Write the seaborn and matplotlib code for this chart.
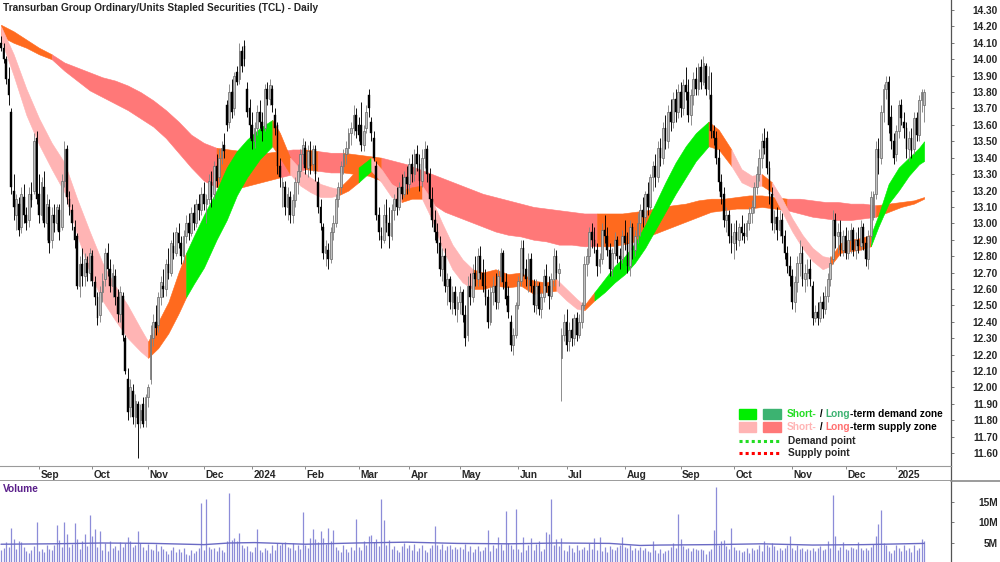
import numpy as np
import pandas as pd
import matplotlib
matplotlib.use("Agg")
import matplotlib.pyplot as plt
import seaborn as sns
from matplotlib.patches import Rectangle
from matplotlib.lines import Line2D

# daily bars, 11 Aug 2023 .. 17 Jan 2025 (prices in cents)
opens = [
    1410, 1407, 1400, 1388, 1368, 1320, 1305, 1312, 1298, 1316,
    1305, 1302, 1318, 1320, 1352, 1318, 1305, 1322, 1300, 1310,
    1290, 1305, 1300, 1308, 1298, 1326, 1345, 1315, 1308, 1298,
    1292, 1262, 1275, 1268, 1276, 1270, 1280, 1264, 1255, 1244,
    1258, 1266, 1282, 1272, 1262, 1268, 1255, 1245, 1256, 1230,
    1205, 1188, 1198, 1182, 1190, 1180, 1190, 1180, 1194, 1205,
    1230, 1240, 1238, 1255, 1262, 1260, 1275, 1270, 1286, 1282,
    1294, 1288, 1280, 1292, 1300, 1294, 1306, 1300, 1312, 1308,
    1318, 1312, 1315, 1325, 1318, 1335, 1328, 1340, 1348, 1372,
    1362, 1380, 1370, 1392, 1388, 1405, 1408, 1382, 1370, 1360,
    1350, 1358, 1368, 1362, 1358, 1382, 1376, 1382, 1366, 1360,
    1335, 1322, 1322, 1310, 1316, 1305, 1314, 1325, 1332, 1342,
    1346, 1334, 1344, 1336, 1345, 1325, 1310, 1298, 1282, 1284,
    1278, 1295, 1300, 1315, 1322, 1335, 1342, 1346, 1355, 1358,
    1366, 1360, 1360, 1348, 1358, 1378, 1362, 1352, 1335, 1305,
    1292, 1290, 1305, 1300, 1292, 1308, 1315, 1310, 1322, 1318,
    1328, 1324, 1336, 1330, 1342, 1336, 1326, 1340, 1345, 1330,
    1315, 1302, 1295, 1288, 1272, 1280, 1262, 1266, 1252, 1258,
    1248, 1252, 1258, 1244, 1232, 1262, 1255, 1270, 1266, 1280,
    1270, 1262, 1255, 1240, 1258, 1262, 1252, 1268, 1282, 1264,
    1256, 1240, 1226, 1232, 1250, 1265, 1285, 1272, 1266, 1278,
    1262, 1250, 1262, 1248, 1255, 1268, 1262, 1256, 1266, 1280,
    1270, 1218, 1232, 1240, 1228, 1235, 1230, 1242, 1232, 1240,
    1250, 1275, 1280, 1295, 1290, 1284, 1274, 1278, 1296, 1292,
    1284, 1272, 1282, 1290, 1280, 1278, 1292, 1288, 1274, 1298,
    1284, 1292, 1300, 1308, 1304, 1318, 1310, 1328, 1335, 1328,
    1346, 1340, 1358, 1350, 1368, 1362, 1376, 1368, 1380, 1370,
    1384, 1380, 1366, 1378, 1388, 1382, 1395, 1386, 1396, 1382,
    1378, 1356, 1352, 1340, 1325, 1318, 1302, 1305, 1292, 1288,
    1295, 1290, 1298, 1294, 1292, 1300, 1306, 1310, 1322, 1330,
    1340, 1350, 1352, 1334, 1318, 1300, 1304, 1296, 1302, 1292,
    1282, 1274, 1268, 1252, 1264, 1276, 1282, 1266, 1270, 1272,
    1262, 1242, 1246, 1242, 1252, 1248, 1256, 1266, 1278, 1302,
    1292, 1295, 1284, 1292, 1282, 1290, 1296, 1284, 1290, 1286,
    1298, 1288, 1278, 1292, 1304, 1318, 1345, 1340, 1368, 1382,
    1386, 1365, 1350, 1342, 1356, 1372, 1362, 1358, 1345, 1352,
    1345, 1364, 1354, 1375, 1372,
]
highs = [
    1414, 1410, 1402, 1395, 1370, 1330, 1318, 1316, 1322, 1324,
    1310, 1322, 1325, 1355, 1356, 1330, 1328, 1332, 1318, 1315,
    1310, 1312, 1312, 1312, 1330, 1350, 1348, 1320, 1312, 1302,
    1294, 1280, 1285, 1282, 1280, 1285, 1284, 1268, 1258, 1262,
    1270, 1285, 1288, 1278, 1275, 1272, 1260, 1262, 1258, 1232,
    1212, 1205, 1202, 1196, 1192, 1190, 1194, 1196, 1202, 1238,
    1245, 1250, 1258, 1268, 1272, 1278, 1285, 1290, 1295, 1298,
    1300, 1292, 1296, 1305, 1306, 1310, 1312, 1315, 1318, 1322,
    1325, 1318, 1330, 1332, 1338, 1342, 1345, 1350, 1355, 1375,
    1385, 1388, 1392, 1396, 1410, 1408, 1412, 1386, 1376, 1368,
    1362, 1372, 1375, 1368, 1385, 1386, 1388, 1384, 1370, 1362,
    1340, 1328, 1326, 1322, 1320, 1318, 1328, 1336, 1345, 1352,
    1350, 1348, 1350, 1348, 1348, 1328, 1315, 1300, 1290, 1288,
    1298, 1305, 1318, 1325, 1338, 1345, 1350, 1358, 1362, 1372,
    1370, 1365, 1374, 1360, 1372, 1382, 1365, 1356, 1338, 1310,
    1298, 1312, 1315, 1310, 1312, 1318, 1322, 1325, 1330, 1332,
    1335, 1340, 1342, 1345, 1348, 1342, 1345, 1350, 1348, 1334,
    1322, 1308, 1300, 1292, 1285, 1285, 1270, 1268, 1262, 1262,
    1256, 1262, 1260, 1250, 1268, 1270, 1275, 1280, 1285, 1286,
    1278, 1272, 1260, 1262, 1268, 1270, 1272, 1285, 1284, 1270,
    1262, 1244, 1236, 1252, 1268, 1290, 1290, 1278, 1282, 1282,
    1266, 1266, 1264, 1258, 1272, 1275, 1268, 1270, 1285, 1284,
    1276, 1236, 1245, 1248, 1240, 1242, 1245, 1246, 1245, 1252,
    1280, 1285, 1298, 1300, 1298, 1288, 1282, 1300, 1305, 1298,
    1288, 1285, 1295, 1292, 1285, 1296, 1302, 1295, 1302, 1300,
    1296, 1306, 1312, 1316, 1320, 1325, 1330, 1338, 1342, 1350,
    1352, 1362, 1366, 1372, 1376, 1380, 1382, 1385, 1386, 1388,
    1395, 1388, 1382, 1392, 1395, 1398, 1400, 1402, 1398, 1396,
    1392, 1360, 1356, 1345, 1330, 1322, 1310, 1308, 1300, 1300,
    1302, 1300, 1305, 1300, 1302, 1310, 1314, 1325, 1335, 1345,
    1355, 1358, 1356, 1338, 1322, 1308, 1310, 1308, 1306, 1296,
    1286, 1280, 1272, 1268, 1280, 1290, 1286, 1275, 1278, 1278,
    1265, 1250, 1252, 1256, 1258, 1262, 1270, 1280, 1308, 1306,
    1300, 1302, 1296, 1298, 1296, 1300, 1298, 1295, 1298, 1302,
    1300, 1292, 1296, 1320, 1320, 1350, 1352, 1372, 1385, 1390,
    1390, 1372, 1355, 1360, 1375, 1376, 1368, 1362, 1356, 1358,
    1368, 1368, 1378, 1382, 1382,
]
lows = [
    1405, 1398, 1385, 1372, 1318, 1302, 1296, 1292, 1294, 1300,
    1296, 1298, 1310, 1318, 1312, 1300, 1302, 1298, 1290, 1282,
    1285, 1295, 1296, 1290, 1296, 1322, 1312, 1305, 1296, 1285,
    1260, 1255, 1262, 1262, 1265, 1265, 1262, 1250, 1238, 1240,
    1252, 1262, 1268, 1258, 1255, 1250, 1240, 1240, 1228, 1208,
    1180, 1182, 1178, 1176, 1157, 1175, 1176, 1176, 1188, 1202,
    1225, 1232, 1234, 1250, 1255, 1256, 1266, 1268, 1278, 1280,
    1285, 1275, 1276, 1288, 1290, 1292, 1296, 1298, 1302, 1305,
    1308, 1300, 1312, 1310, 1315, 1322, 1325, 1336, 1340, 1356,
    1358, 1364, 1366, 1384, 1385, 1392, 1396, 1365, 1352, 1345,
    1346, 1354, 1358, 1350, 1356, 1372, 1372, 1368, 1354, 1330,
    1322, 1310, 1305, 1302, 1300, 1300, 1310, 1318, 1328, 1336,
    1330, 1328, 1330, 1332, 1326, 1306, 1296, 1278, 1274, 1272,
    1276, 1290, 1298, 1310, 1318, 1330, 1336, 1342, 1348, 1354,
    1352, 1350, 1344, 1344, 1355, 1365, 1350, 1338, 1302, 1290,
    1285, 1288, 1295, 1285, 1290, 1302, 1305, 1308, 1315, 1316,
    1318, 1320, 1325, 1326, 1332, 1320, 1322, 1334, 1325, 1310,
    1298, 1290, 1282, 1268, 1265, 1258, 1250, 1248, 1245, 1244,
    1240, 1245, 1240, 1225, 1228, 1250, 1252, 1262, 1262, 1266,
    1258, 1250, 1236, 1238, 1250, 1248, 1248, 1264, 1260, 1250,
    1242, 1222, 1220, 1230, 1248, 1262, 1268, 1262, 1258, 1258,
    1246, 1245, 1244, 1242, 1252, 1258, 1248, 1254, 1262, 1266,
    1262, 1192, 1228, 1222, 1222, 1225, 1226, 1228, 1230, 1236,
    1248, 1268, 1276, 1285, 1282, 1268, 1270, 1275, 1288, 1280,
    1268, 1268, 1278, 1276, 1272, 1276, 1284, 1270, 1268, 1278,
    1280, 1288, 1292, 1298, 1300, 1305, 1308, 1320, 1322, 1325,
    1335, 1336, 1345, 1346, 1356, 1358, 1362, 1364, 1365, 1366,
    1375, 1362, 1360, 1372, 1378, 1378, 1382, 1384, 1378, 1376,
    1352, 1348, 1336, 1320, 1312, 1298, 1295, 1288, 1282, 1278,
    1284, 1286, 1290, 1288, 1290, 1296, 1300, 1306, 1318, 1326,
    1334, 1342, 1330, 1312, 1296, 1294, 1290, 1292, 1288, 1278,
    1270, 1262, 1248, 1246, 1258, 1268, 1262, 1258, 1262, 1262,
    1238, 1240, 1238, 1240, 1242, 1245, 1252, 1262, 1275, 1285,
    1282, 1280, 1280, 1278, 1278, 1282, 1280, 1278, 1282, 1284,
    1284, 1274, 1272, 1288, 1302, 1315, 1330, 1336, 1362, 1376,
    1355, 1345, 1336, 1338, 1352, 1360, 1352, 1340, 1338, 1340,
    1342, 1350, 1350, 1368, 1362,
]
closes = [
    1407, 1400, 1388, 1378, 1322, 1310, 1315, 1296, 1318, 1305,
    1300, 1318, 1314, 1350, 1315, 1305, 1325, 1300, 1312, 1288,
    1305, 1300, 1310, 1295, 1326, 1345, 1316, 1310, 1300, 1290,
    1262, 1275, 1268, 1278, 1270, 1282, 1265, 1255, 1242, 1258,
    1265, 1282, 1272, 1262, 1270, 1255, 1245, 1258, 1232, 1210,
    1185, 1200, 1182, 1192, 1178, 1186, 1178, 1194, 1200, 1232,
    1240, 1236, 1255, 1264, 1260, 1275, 1270, 1288, 1282, 1295,
    1288, 1280, 1292, 1300, 1294, 1306, 1300, 1312, 1308, 1318,
    1312, 1315, 1326, 1316, 1335, 1326, 1340, 1346, 1344, 1360,
    1380, 1368, 1390, 1386, 1405, 1396, 1400, 1368, 1360, 1350,
    1358, 1368, 1362, 1356, 1382, 1376, 1384, 1372, 1358, 1335,
    1328, 1325, 1310, 1318, 1305, 1314, 1325, 1332, 1342, 1348,
    1334, 1344, 1335, 1345, 1330, 1310, 1300, 1282, 1286, 1278,
    1295, 1300, 1315, 1322, 1335, 1342, 1346, 1355, 1358, 1366,
    1356, 1354, 1348, 1356, 1368, 1370, 1355, 1340, 1305, 1295,
    1290, 1305, 1300, 1292, 1308, 1315, 1310, 1322, 1318, 1328,
    1324, 1336, 1330, 1342, 1336, 1326, 1340, 1345, 1330, 1315,
    1302, 1295, 1288, 1272, 1280, 1262, 1266, 1252, 1258, 1248,
    1252, 1258, 1244, 1230, 1262, 1255, 1270, 1266, 1280, 1270,
    1262, 1255, 1240, 1258, 1262, 1252, 1268, 1282, 1264, 1254,
    1246, 1226, 1232, 1250, 1265, 1285, 1272, 1266, 1278, 1262,
    1250, 1262, 1248, 1255, 1268, 1262, 1256, 1266, 1280, 1270,
    1272, 1232, 1240, 1226, 1235, 1230, 1242, 1232, 1240, 1250,
    1275, 1280, 1295, 1290, 1286, 1274, 1278, 1296, 1292, 1284,
    1272, 1282, 1290, 1280, 1278, 1292, 1288, 1274, 1298, 1284,
    1292, 1300, 1308, 1304, 1318, 1310, 1328, 1335, 1328, 1346,
    1340, 1358, 1350, 1368, 1362, 1376, 1368, 1380, 1370, 1384,
    1380, 1366, 1378, 1388, 1382, 1395, 1386, 1398, 1382, 1390,
    1356, 1352, 1340, 1325, 1316, 1302, 1305, 1292, 1288, 1295,
    1290, 1298, 1294, 1292, 1300, 1306, 1310, 1322, 1330, 1340,
    1350, 1346, 1334, 1318, 1300, 1304, 1296, 1302, 1292, 1282,
    1274, 1268, 1252, 1264, 1276, 1282, 1266, 1270, 1272, 1266,
    1242, 1246, 1242, 1252, 1248, 1256, 1266, 1276, 1302, 1292,
    1295, 1284, 1292, 1282, 1290, 1296, 1284, 1290, 1286, 1298,
    1288, 1278, 1292, 1316, 1318, 1345, 1340, 1368, 1382, 1386,
    1360, 1350, 1340, 1356, 1372, 1364, 1358, 1345, 1352, 1344,
    1364, 1354, 1375, 1380, 1380,
]
# volume in millions of units
volumes = [
    3.2, 3.8, 5.2, 4.1, 8.7, 5.9, 3.5, 5.6, 5.3, 4.0,
    3.1, 2.6, 3.3, 4.2, 10.1, 3.0, 3.6, 2.8, 4.4, 3.5,
    3.2, 4.5, 9.4, 5.8, 4.1, 10.0, 7.2, 4.0, 4.8, 9.9,
    6.0, 3.6, 5.5, 7.3, 4.2, 11.8, 6.6, 8.5, 4.0, 8.0,
    3.4, 4.9, 3.0, 5.6, 3.7, 4.2, 3.4, 5.3, 4.1, 4.9,
    6.4, 5.5, 4.0, 4.6, 7.9, 5.1, 4.0, 3.2, 4.7, 3.5,
    3.4, 4.8, 3.1, 4.2, 3.6, 3.0, 2.4, 3.3, 4.1, 2.7,
    3.5, 2.9, 3.7, 2.2, 2.0, 3.2, 2.6, 3.0, 3.8, 14.8,
    3.3, 15.7, 4.0, 3.6, 3.9, 3.1, 4.0, 3.3, 2.8, 5.4,
    17.2, 5.8, 6.3, 5.6, 7.4, 4.6, 3.7, 4.2, 3.1, 2.9,
    4.0, 8.4, 3.3, 2.7, 3.8, 3.2, 2.6, 4.6, 3.4, 4.9,
    4.5, 4.9, 5.3, 4.0, 3.7, 5.0, 3.2, 4.4, 3.6, 12.5,
    4.6, 3.8, 6.1, 8.4, 5.9, 5.2, 8.0, 6.2, 4.7, 8.6,
    5.5, 8.2, 4.1, 3.2, 2.8, 4.4, 3.5, 2.9, 4.0, 3.2,
    10.8, 4.0, 3.3, 5.6, 4.5, 6.6, 7.0, 5.2, 6.0, 4.3,
    15.7, 10.6, 4.5, 5.8, 3.6, 4.2, 3.2, 2.7, 4.2, 5.0,
    3.7, 4.5, 3.2, 4.8, 3.0, 3.7, 4.6, 3.3, 2.9, 3.8,
    4.4, 9.1, 4.5, 3.6, 4.8, 3.2, 4.3, 4.6, 3.5, 4.0,
    3.6, 4.0, 3.5, 4.7, 3.1, 4.2, 2.8, 3.6, 4.3, 3.0,
    3.2, 4.0, 8.1, 3.0, 4.5, 3.8, 6.5, 4.8, 3.4, 12.8,
    4.9, 4.6, 3.5, 13.2, 3.6, 2.8, 6.5, 3.2, 4.4, 6.2,
    3.3, 4.8, 5.5, 3.1, 3.6, 7.6, 7.2, 15.7, 4.6, 5.9,
    4.2, 6.2, 3.3, 3.0, 4.4, 3.8, 2.9, 4.5, 3.3, 3.6,
    4.0, 3.2, 5.0, 3.5, 6.2, 3.3, 6.4, 3.1, 4.0, 2.9,
    4.3, 3.6, 3.2, 4.0, 4.4, 6.4, 4.0, 3.7, 4.6, 3.3,
    3.9, 3.4, 4.0, 3.3, 3.7, 3.0, 2.9, 5.5, 3.2, 2.6,
    3.6, 2.6, 3.0, 3.3, 4.1, 5.1, 3.9, 12.1, 6.0, 4.3,
    3.5, 3.8, 3.1, 3.9, 3.5, 3.2, 3.6, 3.3, 2.2, 3.0,
    3.6, 8.2, 18.6, 4.4, 5.5, 5.8, 4.3, 3.6, 8.7, 4.0,
    3.4, 3.2, 2.7, 3.1, 3.8, 2.5, 3.9, 3.2, 3.5, 4.6,
    3.1, 5.4, 4.6, 4.1, 4.9, 4.3, 3.4, 3.9, 3.2, 3.7,
    4.6, 6.6, 3.8, 3.3, 4.4, 3.5, 3.9, 3.1, 3.6, 3.4,
    3.8, 3.0, 3.9, 4.2, 3.3, 3.6, 5.4, 3.7, 16.7, 6.6,
    3.2, 4.1, 5.2, 3.6, 3.2, 4.1, 3.7, 3.5, 5.2, 3.9,
    3.4, 3.7, 3.3, 4.0, 4.8, 6.6, 9.6, 13.0, 4.9, 4.4,
    3.0, 2.6, 3.4, 4.4, 3.7, 3.1, 4.5, 3.2, 3.9, 2.8,
    4.4, 3.3, 3.8, 6.0, 5.5,
]
# volume moving average (millions)
vma_idx = [0, 20, 40, 60, 80, 90, 100, 120, 140, 160, 180, 200, 220, 240, 252, 260, 280, 300, 320, 340, 364]
vma_val = [4.7, 4.8, 5.0, 4.9, 4.6, 5.0, 5.1, 4.7, 5.0, 5.2, 4.9, 4.8, 5.0, 4.9, 4.4, 4.5, 4.6, 4.8, 4.5, 4.6, 4.9]

# short-term zone (upper / lower edge) at sampled bars
short_idx = [0, 5, 10, 15, 20, 25, 30, 35, 40, 45, 50, 55,
             58, 62, 66, 70, 73, 76, 80, 85, 89, 93, 97, 102, 107,
             110, 114, 118, 122, 126, 130, 133, 137, 141, 146,
             150, 154, 158, 162, 166, 170, 174, 178, 182, 186,
             190, 195, 200, 205, 210, 215, 219, 223, 227, 230,
             234, 238, 242, 246, 250, 254, 258, 262, 266, 270,
             274, 279, 283, 288, 292, 296, 300, 304, 308, 312,
             316, 320, 324, 327, 331, 335, 339, 343, 346, 350,
             354, 358, 362, 364]
short_hi = [14.20, 14.03, 13.82, 13.64, 13.49, 13.37, 13.15, 12.95, 12.76, 12.62, 12.50, 12.36,
            12.28, 12.40, 12.52, 12.70, 12.82, 12.92, 13.05, 13.20, 13.34, 13.44, 13.51, 13.58, 13.63,
            13.55, 13.40, 13.33, 13.28, 13.24, 13.22, 13.21, 13.27, 13.34, 13.40,
            13.33, 13.24, 13.20, 13.22, 13.23, 13.14, 13.00, 12.87, 12.78, 12.72,
            12.70, 12.72, 12.69, 12.70, 12.65, 12.64, 12.66, 12.60, 12.54, 12.50,
            12.58, 12.66, 12.74, 12.80, 12.88, 12.99, 13.12, 13.25, 13.37, 13.47,
            13.55, 13.62, 13.57, 13.45, 13.33, 13.29, 13.30, 13.25, 13.15, 13.03,
            12.93, 12.85, 12.80, 12.79, 12.88, 12.90, 12.91, 12.93, 13.05, 13.24,
            13.34, 13.40, 13.46, 13.50]
short_lo = [14.12, 13.90, 13.66, 13.48, 13.33, 13.19, 12.93, 12.70, 12.53, 12.41, 12.30, 12.22,
            12.18, 12.24, 12.33, 12.45, 12.55, 12.63, 12.73, 12.90, 13.02, 13.17, 13.28, 13.39, 13.47,
            13.40, 13.30, 13.23, 13.19, 13.16, 13.16, 13.17, 13.20, 13.25, 13.32,
            13.25, 13.16, 13.13, 13.15, 13.15, 13.02, 12.85, 12.72, 12.64, 12.60,
            12.60, 12.62, 12.61, 12.62, 12.57, 12.58, 12.59, 12.53, 12.48, 12.47,
            12.53, 12.58, 12.64, 12.69, 12.76, 12.85, 12.96, 13.07, 13.18, 13.28,
            13.38, 13.47, 13.45, 13.35, 13.25, 13.22, 13.23, 13.19, 13.07, 12.95,
            12.85, 12.77, 12.72, 12.74, 12.82, 12.83, 12.84, 12.86, 12.98, 13.12,
            13.20, 13.29, 13.36, 13.38]
# colour runs (number of segments): P short supply, O neutral, G short demand
short_runs = [("P", 12), ("O", 4), ("G", 8), ("O", 2), ("P", 5), ("O", 2), ("G", 1),
              ("P", 3), ("O", 2), ("P", 5), ("O", 7), ("P", 3), ("O", 1), ("G", 11),
              ("O", 2), ("P", 3), ("O", 1), ("P", 6), ("O", 4), ("G", 6)]

# long-term zone every 5 bars
long_idx = list(range(0, 365, 5)) + [364]
long_hi = [14.21, 14.17, 14.12, 14.07, 14.03, 13.98, 13.95, 13.92, 13.89, 13.87,
           13.84, 13.80, 13.75, 13.69, 13.62, 13.54, 13.49, 13.46, 13.45, 13.44,
           13.43, 13.43, 13.44, 13.45, 13.45, 13.44, 13.43, 13.43, 13.42, 13.41,
           13.40, 13.38, 13.36, 13.33, 13.30, 13.27, 13.24, 13.21, 13.18, 13.16,
           13.14, 13.12, 13.10, 13.09, 13.08, 13.07, 13.06, 13.06, 13.06, 13.06,
           13.07, 13.08, 13.10, 13.11, 13.12, 13.14, 13.15, 13.15, 13.16, 13.17,
           13.17, 13.16, 13.15, 13.15, 13.14, 13.13, 13.13, 13.12, 13.12, 13.11,
           13.12, 13.13, 13.14, 13.16]
long_lo = [14.14, 14.10, 14.07, 14.03, 14.00, 13.93, 13.87, 13.81, 13.77, 13.73,
           13.69, 13.64, 13.59, 13.52, 13.43, 13.34, 13.26, 13.22, 13.20, 13.22,
           13.24, 13.26, 13.28, 13.30, 13.33, 13.32, 13.31, 13.31, 13.30, 13.29,
           13.26, 13.23, 13.20, 13.16, 13.12, 13.07, 13.04, 13.01, 12.98, 12.95,
           12.93, 12.92, 12.90, 12.89, 12.87, 12.87, 12.86, 12.86, 12.86, 12.87,
           12.89, 12.92, 12.95, 12.98, 13.01, 13.04, 13.07, 13.08, 13.09, 13.09,
           13.10, 13.09, 13.08, 13.06, 13.04, 13.03, 13.02, 13.02, 13.03, 13.04,
           13.07, 13.10, 13.12, 13.15]
long_runs = [("O", 4), ("L", 13), ("O", 5), ("L", 2), ("O", 1), ("L", 2), ("O", 3),
             ("L", 17), ("O", 15), ("L", 7), ("O", 4)]

month_idx = [15, 36, 58, 80, 99, 120, 141, 161, 181, 204, 223, 246, 268, 289, 312, 333, 353]
month_lbl = ["Sep", "Oct", "Nov", "Dec", "2024", "Feb", "Mar", "Apr", "May",
             "Jun", "Jul", "Aug", "Sep", "Oct", "Nov", "Dec", "2025"]

assert len(opens) == len(highs) == len(lows) == len(closes) == len(volumes)

zone_colors = {"P": "#ffb4b4", "L": "#ff7878", "O": "#ff6a1e", "G": "#00ee00", "D": "#3cb371"}

df = pd.DataFrame({"open": opens, "high": highs, "low": lows, "close": closes}) / 100.0
df["vol"] = volumes
df["bar"] = np.arange(len(df))

sns.set_style("white")
plt.rcParams["font.family"] = ["Liberation Sans", "DejaVu Sans"]
plt.rcParams["font.weight"] = "bold"
FS = 7.3

W, H = 1000, 562
fig = plt.figure(figsize=(10, 5.62), dpi=100)
ax = fig.add_axes([0, 96 / H, 0.951, 466 / H])
axs = fig.add_axes([0, 81 / H, 0.951, 15 / H])
axv = fig.add_axes([0, 0, 0.951, 81 / H])

XL = (-0.394, 374.6)


def draw_zone(axis, idx, hi, lo, runs):
    idx, hi, lo = np.array(idx), np.array(hi), np.array(lo)
    k = 0
    for code, n in runs:
        sl = slice(k, k + n + 1)
        c = zone_colors[code]
        axis.fill_between(idx[sl], lo[sl], hi[sl], color=c, lw=0.4, ec=c, zorder=1)
        k += n


draw_zone(ax, long_idx, long_hi, long_lo, long_runs)
draw_zone(ax, short_idx, short_hi, short_lo, short_runs)

# candles: grey = up day, black = down day
up = df[df.close >= df.open]
dn = df[df.close < df.open]
ax.vlines(up.bar, up.low, up.high, color="#858585", lw=0.65, zorder=3)
ax.vlines(dn.bar, dn.low, dn.high, color="black", lw=0.65, zorder=3)
ax.bar(up.bar, np.maximum(up.close - up.open, 0.01), bottom=up.open, width=0.68,
       color="#c2c2c2", edgecolor="#707070", linewidth=0.55, zorder=4)
ax.bar(dn.bar, dn.open - dn.close, bottom=dn.close, width=0.68,
       color="black", edgecolor="black", linewidth=0.3, zorder=4)

ax.set_xlim(*XL)
ax.set_ylim(11.521, 14.361)
ax.set_xticks([])
ax.yaxis.tick_right()
yt = np.round(np.arange(11.6, 14.301, 0.1), 2)
ax.set_yticks(yt)
ax.set_yticklabels([f"{v:.2f}" for v in yt])

for a in (ax, axs, axv):
    for s in ("left", "top", "bottom"):
        a.spines[s].set_visible(False)
    a.spines["right"].set_color("#555555")
    a.spines["right"].set_linewidth(0.9)
    a.tick_params(axis="y", which="both", direction="out", length=2.5, width=0.7,
                  color="#777777", labelsize=FS, pad=31.3)
    for t in a.get_yticklabels():
        t.set_ha("right")
        t.set_fontweight("bold")

# month strip
axs.set_xlim(*XL)
axs.set_ylim(0, 1)
axs.set_yticks([])
axs.spines["top"].set_visible(True)
axs.spines["bottom"].set_visible(True)
axs.spines["top"].set_color("#9a9a9a")
axs.spines["bottom"].set_color("#8a8a8a")
axs.spines["bottom"].set_linewidth(1.2)
axs.xaxis.tick_top()
axs.set_xticks(month_idx)
axs.set_xticklabels([])
axs.tick_params(axis="x", direction="in", length=2.5, width=0.7, color="#888888")
for xi, lbl in zip(month_idx, month_lbl):
    axs.text(xi + 0.6, 0.42, lbl, ha="left", va="center", fontsize=FS, fontweight="bold")
fig.add_artist(Line2D([0.951, 1.0], [81.3 / H, 81.3 / H], color="#8a8a8a", lw=1.2))

# volume panel
axv.vlines(df.bar, 0, df.vol, color="#8c8cd8", lw=0.9)
sns.lineplot(x=vma_idx, y=vma_val, ax=axv, color="#6a6ac4", lw=1.0)
axv.set_xlim(*XL)
axv.set_ylim(0.37, 20.1)
axv.set_xticks([])
axv.yaxis.tick_right()
axv.set_yticks([5, 10, 15])
axv.set_yticklabels(["5M", "10M", "15M"])
axv.set_xlabel("")
axv.set_ylabel("")
axv.tick_params(axis="y", direction="out", length=2.5, width=0.7, color="#777777",
                labelsize=FS, pad=31.3)
for t in axv.get_yticklabels():
    t.set_ha("right")
    t.set_fontweight("bold")
axv.text(0.003, 1 - 8 / 81, "Volume", transform=axv.transAxes, color="#5a1f8a",
         fontsize=FS, fontweight="bold", ha="left", va="center")

# title
fig.text(0.003, 1 - 8 / H, "Transurban Group Ordinary/Units Stapled Securities (TCL) - Daily",
         fontsize=FS, fontweight="bold", ha="left", va="center")


# legend
def fx(px):
    return px / W


def fy(py):
    return 1 - py / H


def chain_text(x, y, parts):
    t = fig.text(x, y, parts[0][0], color=parts[0][1], fontsize=FS, fontweight="bold",
                 ha="left", va="bottom")
    for s, c in parts[1:]:
        t = ax.annotate(s, xy=(1, 0), xycoords=t, color=c, fontsize=FS, fontweight="bold",
                        ha="left", va="bottom", annotation_clip=False)


for (a, b), yy in (((zone_colors["G"], zone_colors["D"]), 414), ((zone_colors["P"], zone_colors["L"]), 427)):
    fig.add_artist(Rectangle((fx(739), fy(yy + 5)), fx(17), 10 / H, color=a, transform=fig.transFigure))
    fig.add_artist(Rectangle((fx(763), fy(yy + 5)), fx(18), 10 / H, color=b, transform=fig.transFigure))

chain_text(fx(787), fy(419), [("Short-", "#22dd22"), (" / ", "black"), ("Long", "#3cb371"),
                               ("-term demand zone", "black")])
chain_text(fx(787), fy(432), [("Short-", "#ffb4b4"), (" / ", "black"), ("Long", "#ff6f6f"),
                               ("-term supply zone", "black")])
fig.add_artist(Line2D([fx(739), fx(781)], [fy(441), fy(441)], color="#22dd22", lw=2.2,
                      ls=(0, (1, 1))))
fig.add_artist(Line2D([fx(739), fx(781)], [fy(453), fy(453)], color="#ff0000", lw=2.2,
                      ls=(0, (1, 1))))
fig.text(fx(788), fy(441), "Demand point", fontsize=FS, fontweight="bold", ha="left", va="center")
fig.text(fx(788), fy(453), "Supply point", fontsize=FS, fontweight="bold", ha="left", va="center")

fig.savefig("out.png", dpi=100, facecolor="white")
